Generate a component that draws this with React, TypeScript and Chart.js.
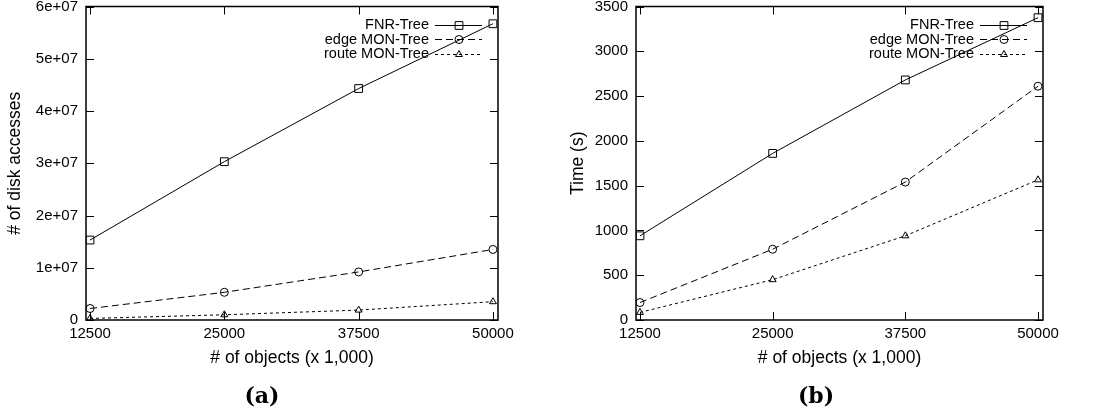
import React, { useEffect, useRef } from 'react';
import { Chart, registerables } from 'chart.js';
import { drawPoint } from 'chart.js/helpers';

Chart.register(...registerables);

// ---------- data ----------
const objects = [12500, 25000, 37500, 50000];
const xTickValues = [12500, 25000, 37500, 50000];
const seriesNames = ['FNR-Tree', 'edge MON-Tree', 'route MON-Tree'];

const diskFNR = [1.53e7, 3.03e7, 4.43e7, 5.67e7];
const diskEdge = [2.2e6, 5.3e6, 9.2e6, 1.35e7];
const diskRoute = [3.0e5, 1.0e6, 1.9e6, 3.5e6];
const diskTicks = [0, 1e7, 2e7, 3e7, 4e7, 5e7, 6e7];

const timeFNR = [940, 1860, 2680, 3375];
const timeEdge = [195, 790, 1540, 2610];
const timeRoute = [85, 450, 940, 1565];
const timeTicks = [0, 500, 1000, 1500, 2000, 2500, 3000, 3500];

// ---------- styles ----------
const FONT = "'Liberation Sans', Arial, sans-serif";
const styles = [
  { pointStyle: 'rect', radius: 5.5, dash: [] as number[] },
  { pointStyle: 'circle', radius: 4, dash: [7, 4] },
  { pointStyle: 'triangle', radius: 4, dash: [3, 3] },
];

const framePlugin = {
  id: 'gnuplotFrame',
  afterDatasetsDraw(chart: any) {
    const { ctx, chartArea: a, scales } = chart;
    ctx.save();
    ctx.strokeStyle = '#000';
    ctx.lineWidth = 1;
    const tl = 8;
    const seg = (x1: number, y1: number, x2: number, y2: number) => {
      ctx.beginPath();
      ctx.moveTo(x1, y1);
      ctx.lineTo(x2, y2);
      ctx.stroke();
    };
    scales.x.ticks.forEach((t: any) => {
      const px = Math.round(scales.x.getPixelForValue(t.value)) + 0.5;
      seg(px, a.bottom, px, a.bottom - tl);
      seg(px, a.top, px, a.top + tl);
    });
    scales.y.ticks.forEach((t: any) => {
      const py = Math.round(scales.y.getPixelForValue(t.value)) + 0.5;
      seg(a.left, py, a.left + tl, py);
      seg(a.right, py, a.right - tl, py);
    });
    ctx.lineWidth = 1.5;
    ctx.strokeRect(a.left, a.top, a.right - a.left, a.bottom - a.top);

    // legend (gnuplot style, top right inside)
    ctx.font = `14.5px ${FONT}`;
    ctx.fillStyle = '#000';
    ctx.textAlign = 'right';
    ctx.textBaseline = 'middle';
    chart.data.datasets.forEach((ds: any, i: number) => {
      const y = a.top + 18 + i * 14.5;
      ctx.fillText(ds.label, a.right - 69, y + 0.5);
      ctx.lineWidth = 1;
      ctx.setLineDash(ds.borderDash || []);
      seg(a.right - 63, Math.round(y) + 0.5, a.right - 16, Math.round(y) + 0.5);
      ctx.setLineDash([]);
      ctx.fillStyle = 'rgba(0,0,0,0)';
      drawPoint(ctx, { pointStyle: ds.pointStyle, radius: ds.pointRadius, rotation: 0, borderWidth: 1 } as any, a.right - 39, Math.round(y) + 0.5);
      ctx.fillStyle = '#000';
    });
    ctx.restore();
  },
};

function makeDatasets(values: number[][]) {
  return values.map((v, i) => ({
    label: seriesNames[i],
    data: objects.map((x, j) => ({ x, y: v[j] })),
    borderColor: '#000',
    backgroundColor: 'rgba(0,0,0,0)',
    borderWidth: 1,
    borderDash: styles[i].dash,
    pointStyle: styles[i].pointStyle,
    pointRadius: styles[i].radius,
    pointBorderWidth: 1,
    pointBorderColor: '#000',
    pointBackgroundColor: 'rgba(0,0,0,0)',
    tension: 0,
  }));
}

type PanelProps = {
  left: number;
  width: number;
  yAxisWidth: number;
  rightPad: number;
  yTitle: string;
  yTitlePad: number;
  yTicks: number[];
  yFormat: (v: number) => string;
  values: number[][];
  caption: string;
  captionX: number;
};

function Panel(p: PanelProps) {
  const ref = useRef<HTMLCanvasElement | null>(null);
  useEffect(() => {
    if (!ref.current) return;
    const yMax = p.yTicks[p.yTicks.length - 1];
    const chart = new Chart(ref.current, {
      type: 'line',
      data: { datasets: makeDatasets(p.values) as any },
      plugins: [framePlugin],
      options: {
        responsive: false,
        animation: false,
        devicePixelRatio: 1,
        layout: { padding: { left: 0, top: 6, right: p.rightPad, bottom: 0 } },
        plugins: { legend: { display: false }, tooltip: { enabled: false } },
        scales: {
          x: {
            type: 'linear',
            min: 12125,
            max: 50470,
            grid: { display: false, drawTicks: false },
            border: { display: false },
            afterBuildTicks: (s: any) => {
              s.ticks = xTickValues.map((v) => ({ value: v }));
            },
            afterFit: (s: any) => {
              s.height = 96;
              s.paddingLeft = 0;
              s.paddingRight = 0;
            },
            ticks: {
              color: '#000',
              font: { family: FONT, size: 15 },
              padding: 5,
              maxRotation: 0,
              autoSkip: false,
              callback: (v: any) => String(v),
            },
            title: {
              display: true,
              text: '# of objects (x 1,000)',
              color: '#000',
              font: { family: FONT, size: 17.5 },
              padding: { top: 0, bottom: 47 },
            },
          },
          y: {
            type: 'linear',
            min: 0,
            max: yMax,
            grid: { display: false, drawTicks: false },
            border: { display: false },
            afterBuildTicks: (s: any) => {
              s.ticks = p.yTicks.map((v) => ({ value: v }));
            },
            afterFit: (s: any) => {
              s.width = p.yAxisWidth;
              s.paddingTop = 0;
              s.paddingBottom = 0;
            },
            ticks: {
              color: '#000',
              font: { family: FONT, size: 15 },
              padding: 8,
              autoSkip: false,
              callback: (v: any) => p.yFormat(Number(v)),
            },
            title: {
              display: true,
              text: p.yTitle,
              color: '#000',
              font: { family: FONT, size: 17.5 },
              padding: { top: p.yTitlePad, bottom: 0 },
            },
          },
        },
      } as any,
    });
    return () => chart.destroy();
  }, []);
  return (
    <>
      <canvas
        ref={ref}
        width={p.width}
        height={416}
        style={{ position: 'absolute', left: p.left, top: 0, width: p.width, height: 416 }}
      />
      <div
        style={{
          position: 'absolute',
          left: p.captionX - 50,
          top: 381,
          width: 100,
          textAlign: 'center',
          font: "bold 22px 'DejaVu Serif', serif",
          lineHeight: '28px',
          color: '#000',
        }}
      >
        {p.caption}
      </div>
    </>
  );
}

export default function App() {
  return (
    <div style={{ position: 'absolute', left: 0, top: 0, width: 1099, height: 416, background: '#fff', overflow: 'hidden' }}>
      <Panel
        left={0}
        width={540}
        yAxisWidth={86}
        rightPad={42}
        yTitle="# of disk accesses"
        yTitlePad={5}
        yTicks={diskTicks}
        yFormat={(v) => (v === 0 ? '0' : `${Math.round(v / 1e7)}e+07`)}
        values={[diskFNR, diskEdge, diskRoute]}
        caption="(a)"
        captionX={262}
      />
      <Panel
        left={540}
        width={559}
        yAxisWidth={96}
        rightPad={56}
        yTitle="Time (s)"
        yTitlePad={28}
        yTicks={timeTicks}
        yFormat={(v) => String(v)}
        values={[timeFNR, timeEdge, timeRoute]}
        caption="(b)"
        captionX={816}
      />
    </div>
  );
}
